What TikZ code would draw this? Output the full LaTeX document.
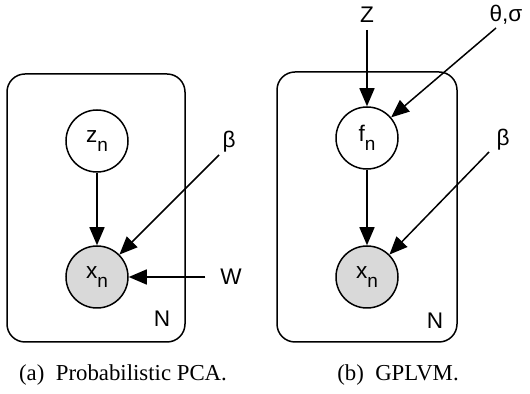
\documentclass[tikz,border=0pt]{standalone}
\usepackage{fontspec}
\setmainfont{Liberation Serif}
\setsansfont{Liberation Sans}
\usepackage{tikz}
\usetikzlibrary{arrows.meta}
\usepackage{xcolor}
\definecolor{obsgray}{HTML}{D9D9D9}

\newcommand{\lowsub}[1]{\raisebox{-0.8ex}{\fontsize{9.5}{10}\selectfont #1}}

\begin{document}
\begin{tikzpicture}[x=0.5pt,y=-0.5pt,>={Triangle[length=9pt,width=7.5pt]},
		every node/.style={font=\sffamily\fontsize{11.3}{13}\selectfont},
		latent/.style={circle,draw,line width=0.75pt,minimum size=31pt,inner sep=0pt},
		observed/.style={latent,fill=obsgray},
		plate/.style={draw,line width=0.75pt,rounded corners=9pt},
		edge/.style={->,line width=0.75pt}]
		
		\useasboundingbox (0,0) rectangle (530,394);
		
		% (a) probabilistic PCA
		\begin{scope}
			\draw[plate] (7,74) rectangle (185,342);
			\node at (162,319) {N};
			
			\node[latent] (za) at (97,141) {z\lowsub{n}};
			\node[observed] (xa) at (97,277) {x\lowsub{n}};
			
			\node (betaa) at (229,142) {β};
			\node (Wa) at (231,277) {W};
			\coordinate (betaas) at (219,155);
			
			\draw[edge] (za) -- (xa);
			\draw[edge] (betaas) -- (xa.45);
			\draw[edge] (Wa.west) ++(-8,0) coordinate (Was) -- (xa);
		\end{scope}
		
		% (b) GPLVM
		\begin{scope}
			\draw[plate] (277,72) rectangle (457,342);
			\node at (435,321) {N};
			
			\node[latent] (fb) at (367,138) {f\lowsub{n}};
			\node[observed] (xb) at (367,277) {x\lowsub{n}};
			
			\node (Zb) at (367,15) {Z};
			\node (thetab) at (506,15) {θ,σ};
			\node (betab) at (503,140) {β};
			\coordinate (thetabs) at (496,28);
			\coordinate (betabs) at (489,152);
			
			\draw[edge] (Zb) -- (fb);
			\draw[edge] (thetabs) -- (fb);
			\draw[edge] (fb) -- (xb);
			\draw[edge] (betabs) -- (xb.45);
		\end{scope}
		
		% captions
		\node[font=\rmfamily\fontsize{11.4}{13}\selectfont] (capa) at (123,375) {(a)\ \ Probabilistic PCA.};
		\node[font=\rmfamily\fontsize{11.4}{13}\selectfont] (capb) at (398,375) {(b)\ \ GPLVM.};
		
	\end{tikzpicture}
\end{document}
